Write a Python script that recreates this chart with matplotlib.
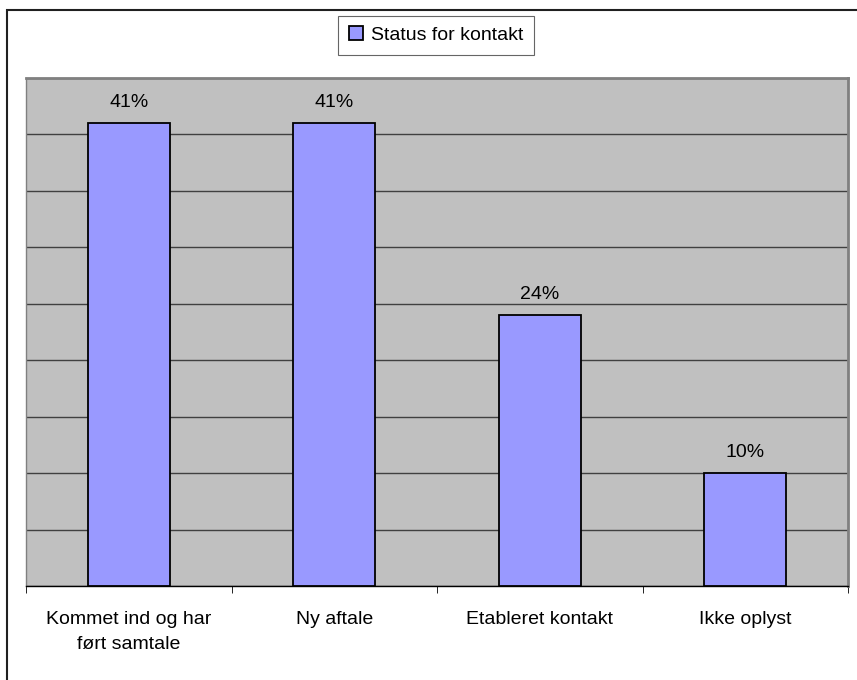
import numpy as np
import matplotlib.pyplot as plt
from matplotlib.patches import Rectangle
from matplotlib.ticker import MultipleLocator

categories = ["Kommet ind og har\nført samtale", "Ny aftale", "Etableret kontakt", "Ikke oplyst"]
values = [41, 41, 24, 10]
series_name = "Status for kontakt"


def main():
    plt.rcParams["font.family"] = ["Liberation Sans", "DejaVu Sans"]

    fig = plt.figure(figsize=(8.57, 6.8), dpi=100)
    ax = fig.add_axes([26 / 857, 1 - 586 / 680, 822 / 857, 508 / 680])

    # outer chart border (only left and top are visible in the original)
    fig.patches.append(Rectangle((7 / 857, -0.1), 1.2, 1 - 10 / 680 + 0.1,
                                 transform=fig.transFigure, fill=False,
                                 edgecolor="#202020", linewidth=1.5))

    x = np.arange(len(categories))
    bars = ax.bar(x, values, width=0.4, color="#9999ff", edgecolor="black",
                  linewidth=1.3, label=series_name, zorder=3)

    for rect, v in zip(bars, values):
        ax.text(rect.get_x() + rect.get_width() / 2, v + 1.1, "{}%".format(v),
                ha="center", va="bottom", fontsize=14)

    ax.set_facecolor("#c0c0c0")
    ax.set_xlim(-0.5, len(categories) - 0.5)
    ax.set_ylim(0, 45)
    ax.yaxis.set_major_locator(MultipleLocator(5))
    ax.grid(axis="y", color="#404040", linewidth=1, zorder=1)
    ax.tick_params(axis="y", left=False, labelleft=False)

    ax.set_xticks(x)
    ax.set_xticklabels(categories, fontsize=14, linespacing=1.6)
    ax.set_xticks(np.arange(len(categories) + 1) - 0.5, minor=True)
    ax.tick_params(axis="x", which="major", length=0, pad=18)
    ax.tick_params(axis="x", which="minor", length=5, color="black")

    for side in ["top", "right"]:
        ax.spines[side].set_color("#808080")
        ax.spines[side].set_linewidth(2)
    ax.spines["left"].set_color("#808080")
    ax.spines["left"].set_linewidth(1)
    ax.spines["bottom"].set_color("black")
    ax.spines["bottom"].set_linewidth(1)

    leg = fig.legend(loc="center", bbox_to_anchor=(436 / 857, 1 - 35 / 680),
                     fontsize=14, frameon=True, fancybox=False,
                     handlelength=0.7, handleheight=0.7, handletextpad=0.4,
                     borderpad=0.55)
    leg.get_frame().set_edgecolor("#404040")
    leg.get_frame().set_linewidth(0.8)

    fig.savefig("out.png", dpi=100)


if __name__ == "__main__":
    main()
